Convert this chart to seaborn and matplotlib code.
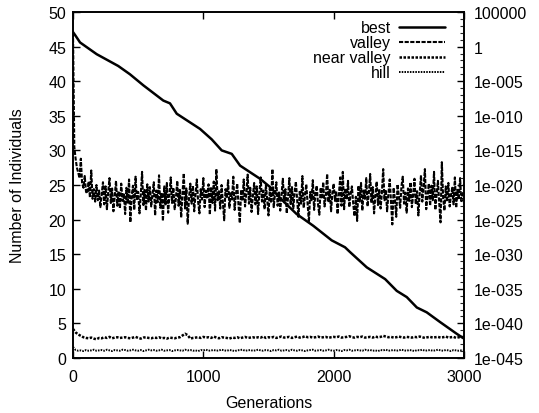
import numpy as np
import pandas as pd
import matplotlib
matplotlib.use("Agg")
import matplotlib.pyplot as plt
from matplotlib.ticker import FixedLocator, FixedFormatter
import seaborn as sns

# ---------------- data ----------------
x_ticks = [0, 1000, 2000, 3000]
y_ticks = [0, 5, 10, 15, 20, 25, 30, 35, 40, 45, 50]
y2_exps = [5, 0, -5, -10, -15, -20, -25, -30, -35, -40, -45]
y2_labels = ["100000", "1", "1e-005", "1e-010", "1e-015", "1e-020",
             "1e-025", "1e-030", "1e-035", "1e-040", "1e-045"]

# best (right log axis): generation and log10 of value
best_gen = [0, 15, 54, 182, 347, 437, 540, 693, 744, 796, 975, 1064, 1141, 1218,
            1282, 1435, 1512, 1600, 1716, 1844, 1985, 2087, 2126, 2254, 2395,
            2484, 2561, 2638, 2714, 2816, 2944, 3000]
best_exp = [2.1, 1.7, 0.6, -1.1, -2.8, -4.0, -5.6, -7.8, -8.2, -9.7, -11.9, -13.4,
            -15.0, -15.5, -17.2, -19.1, -20.3, -22.1, -24.2, -25.9, -28.0, -29.0,
            -29.7, -31.9, -33.6, -35.3, -36.2, -37.7, -38.4, -39.8, -41.5, -42.2]

# valley: every 10 generations, 0..3000
valley_gen = list(range(0, 3001, 10))
valley = [
    47.0, 30.5, 28.8, 27.5, 26.8, 26.0, 28.8, 25.2, 24.6, 26.3, 24.0, 23.8, 25.5, 23.2, 27.1, 23.0, 24.4, 22.6, 25.0, 22.8,
    24.2, 21.8, 23.6, 25.4, 22.2, 24.8, 21.5, 23.9, 26.0, 22.4, 24.5, 21.2, 23.3, 25.6, 22.0, 24.1, 21.6, 25.2, 22.7, 23.8,
    20.8, 24.6, 22.3, 25.8, 19.6, 23.4, 24.9, 21.4, 26.2, 22.8, 24.0, 20.9, 23.6, 26.9, 22.1, 24.3, 21.3, 25.1, 22.6, 24.7,
    21.9, 23.7, 25.4, 20.6, 24.2, 22.5, 26.4, 21.7, 23.9, 19.8, 24.8, 22.2, 25.3, 21.0, 23.5, 26.1, 22.4, 24.6, 21.5, 23.2,
    25.6, 22.0, 24.3, 20.3, 23.8, 26.7, 21.6, 24.5, 19.4, 23.1, 25.2, 22.3, 24.9, 21.2, 23.7, 25.8, 22.6, 20.9, 24.4, 22.9,
    26.0, 21.8, 24.2, 23.0, 25.1, 20.7, 24.7, 22.4, 25.5, 21.3, 27.3, 22.8, 24.1, 21.6, 25.0, 22.5, 19.9, 24.4, 23.1, 25.7,
    21.7, 24.0, 22.9, 26.2, 21.4, 23.6, 25.2, 22.1, 19.5, 24.3, 22.7, 25.8, 21.9, 23.8, 26.5, 22.3, 24.6, 21.1, 23.4, 25.3,
    22.2, 24.8, 20.8, 23.9, 26.1, 22.6, 24.2, 21.5, 25.0, 22.9, 20.6, 24.5, 22.4, 27.3, 21.8, 23.7, 25.4, 22.0, 24.1, 21.3,
    23.6, 25.9, 22.5, 24.4, 20.9, 23.3, 26.0, 22.1, 24.7, 21.6, 23.9, 25.5, 22.8, 20.4, 24.2, 22.3, 26.3, 21.7, 23.5, 25.1,
    22.4, 19.6, 24.0, 22.8, 25.7, 21.4, 23.8, 24.9, 22.2, 20.7, 24.6, 23.0, 25.4, 21.9, 23.4, 26.6, 22.5, 24.3, 21.2, 23.9,
    25.2, 22.7, 24.1, 20.8, 23.6, 26.1, 22.0, 26.9, 21.5, 24.5, 22.9, 25.6, 21.8, 23.7, 24.8, 22.3, 20.5, 23.3, 19.8, 24.9,
    22.6, 25.3, 21.3, 24.2, 23.0, 26.0, 21.9, 23.8, 26.6, 22.4, 24.7, 20.9, 23.5, 25.5, 22.1, 24.4, 21.6, 23.9, 27.3, 22.8,
    24.3, 21.2, 23.7, 25.8, 22.5, 19.3, 24.6, 22.9, 20.4, 25.1, 23.4, 21.7, 24.8, 26.2, 22.3, 23.9, 21.0, 24.5, 22.7, 25.4,
    21.8, 23.6, 25.9, 22.2, 24.1, 20.6, 23.8, 26.4, 22.6, 24.7, 27.3, 21.5, 23.4, 25.2, 22.0, 24.9, 22.8, 26.9, 21.4, 23.7,
    25.6, 22.4, 19.6, 28.3, 23.1, 21.3, 24.8, 22.6, 25.3, 21.9, 23.5, 24.6, 22.2, 26.1, 21.7, 24.3, 22.9, 26.0, 22.5, 23.8,
    24.2,
]

# near valley and hill: every 20 generations, 0..3000
small_gen = list(range(0, 3001, 20))
near_valley = [
    4.2, 3.7, 3.4, 3.2, 3.0, 2.9, 2.85, 2.95, 2.8, 2.7,
    2.9, 2.85, 3.0, 2.9, 3.05, 2.85, 2.95, 3.0, 2.9, 2.95,
    3.0, 2.9, 2.85, 2.95, 3.05, 2.9, 2.8, 2.95, 3.0, 2.9,
    2.85, 2.95, 2.9, 3.0, 2.85, 2.9, 2.8, 2.95, 2.9, 2.85,
    2.95, 3.0, 3.25, 3.5, 3.3, 2.8, 2.9, 2.95, 3.0, 2.9,
    3.05, 2.95, 3.0, 2.9, 3.1, 2.95, 2.85, 3.0, 2.95, 2.9,
    2.8, 2.95, 2.9, 3.0, 2.85, 2.95, 3.05, 2.9, 2.95, 3.0,
    2.9, 3.0, 2.95, 3.1, 2.9, 3.0, 2.95, 3.05, 2.9, 3.0,
    3.1, 2.95, 3.0, 3.05, 2.9, 3.0, 3.1, 2.95, 3.0, 3.15,
    3.0, 3.05, 2.95, 3.0, 3.1, 2.95, 3.0, 3.05, 2.9, 3.0,
    3.05, 3.0, 3.1, 2.95, 3.0, 3.05, 3.15, 3.0, 2.95, 3.05,
    3.0, 3.1, 2.95, 3.0, 3.05, 2.95, 3.1, 3.0, 3.05, 3.2,
    3.1, 3.0, 3.05, 2.95, 3.0, 3.1, 3.0, 2.95, 3.05, 3.0,
    2.95, 3.05, 3.0, 3.1, 3.0, 2.9, 3.0, 3.05, 2.95, 3.0,
    3.05, 2.95, 3.0, 3.1, 2.95, 3.0, 3.05, 2.9, 3.0, 3.05,
    3.0,
]
hill = [
    1.6, 1.15, 1.05, 1.1, 1.0, 1.15, 1.05, 1.1, 1.2, 1.05,
    1.1, 1.15, 1.05, 1.2, 1.1, 1.0, 1.15, 1.1, 1.05, 1.2,
    1.15, 1.05, 1.1, 1.2, 1.1, 1.05, 1.15, 1.0, 1.1, 1.2,
    1.1, 1.15, 1.05, 1.1, 1.2, 1.05, 1.1, 1.15, 1.0, 1.1,
    1.15, 1.1, 1.05, 1.2, 1.1, 1.15, 1.05, 1.1, 1.0, 1.15,
    1.1, 1.2, 1.05, 1.1, 1.15, 1.05, 1.1, 1.2, 1.1, 1.05,
    1.15, 1.1, 1.0, 1.1, 1.15, 1.2, 1.05, 1.1, 1.15, 1.05,
    1.1, 1.2, 1.1, 1.05, 1.15, 1.1, 1.0, 1.15, 1.1, 1.2,
    1.05, 1.1, 1.15, 1.05, 1.2, 1.1, 1.05, 1.15, 1.1, 1.0,
    1.1, 1.15, 1.2, 1.05, 1.1, 1.15, 1.05, 1.1, 1.2, 1.1,
    1.05, 1.15, 1.1, 1.0, 1.15, 1.1, 1.2, 1.05, 1.1, 1.15,
    1.1, 1.05, 1.2, 1.1, 1.15, 1.05, 1.1, 1.0, 1.15, 1.1,
    1.2, 1.05, 1.1, 1.15, 1.05, 1.1, 1.2, 1.1, 1.05, 1.15,
    1.1, 1.0, 1.15, 1.1, 1.2, 1.05, 1.1, 1.15, 1.05, 1.1,
    1.2, 1.1, 1.05, 1.15, 1.1, 1.0, 1.15, 1.1, 1.05, 1.1,
    1.1,
]

# ---------------- style ----------------
sns.set_theme(style="ticks")
plt.rcParams["font.family"] = ["Liberation Sans", "DejaVu Sans"]
plt.rcParams["text.color"] = "black"
plt.rcParams["axes.labelcolor"] = "black"
FS = 11.5

fig = plt.figure(figsize=(5.39, 4.14), dpi=100)
ax = fig.add_axes([73 / 539, 1 - 359 / 414, (464 - 73) / 539, (359 - 13) / 414])
ax2 = ax.twinx()

sns.lineplot(x=valley_gen, y=valley, ax=ax, color="black", lw=1.5,
             linestyle=(0, (2, 0.7)), label="valley", estimator=None, sort=False)
sns.lineplot(x=small_gen, y=near_valley, ax=ax, color="black", lw=1.8,
             linestyle=(0, (1, 0.6)), label="near valley", estimator=None, sort=False)
sns.lineplot(x=small_gen, y=hill, ax=ax, color="black", lw=1.4,
             linestyle=(0, (0.8, 0.6)), label="hill", estimator=None, sort=False)

best_val = [10.0 ** e for e in best_exp]
sns.lineplot(x=best_gen, y=best_val, ax=ax2, color="black", lw=1.8,
             linestyle="-", label="best", estimator=None, sort=False)

ax.set_xlim(0, 3000)
ax.set_ylim(0, 50)
ax2.set_yscale("log")
ax2.set_ylim(1e-45, 1e5)

ax.set_xticks(x_ticks)
ax.set_xticklabels([str(t) for t in x_ticks])
ax.set_yticks(y_ticks)
ax.set_yticklabels([str(t) for t in y_ticks])
ax2.yaxis.set_major_locator(FixedLocator([10.0 ** e for e in y2_exps]))
ax2.yaxis.set_major_formatter(FixedFormatter(y2_labels))
ax2.yaxis.set_minor_locator(FixedLocator([10.0 ** e for e in range(-45, 6)]))
ax2.yaxis.set_minor_formatter(FixedFormatter([""] * 51))

ax.tick_params(axis="x", direction="in", top=True, bottom=True, length=5,
               width=1, labelsize=FS, pad=8, colors="black")
ax.tick_params(axis="y", direction="in", left=True, right=False, length=5,
               width=1, labelsize=FS, pad=5, colors="black")
ax2.tick_params(axis="y", which="major", direction="in", right=True, length=5,
                width=1, labelsize=FS, pad=7, colors="black")
ax2.tick_params(axis="y", which="minor", direction="in", right=True, length=3,
                width=0.8)

for a in (ax, ax2):
    for s in a.spines.values():
        s.set_visible(True)
        s.set_linewidth(1.2)
        s.set_color("black")

ax.set_xlabel("Generations", fontsize=FS, labelpad=8, color="black")
ax.set_ylabel("Number of Individuals", fontsize=FS, labelpad=17, color="black")
ax2.set_ylabel("")

# combined legend
if ax.get_legend() is not None:
    ax.get_legend().remove()
h1, l1 = ax.get_legend_handles_labels()
h2, l2 = ax2.get_legend_handles_labels()
leg = ax2.legend(h2 + h1, l2 + l1, loc="upper right", bbox_to_anchor=(0.96, 0.985),
                 frameon=False, markerfirst=False, fontsize=FS, handlelength=2.9,
                 handletextpad=0.5, labelspacing=0.0, borderaxespad=0.0,
                 borderpad=0.2)
for t in leg.get_texts():
    t.set_color("black")

fig.savefig("out.png", dpi=100)
